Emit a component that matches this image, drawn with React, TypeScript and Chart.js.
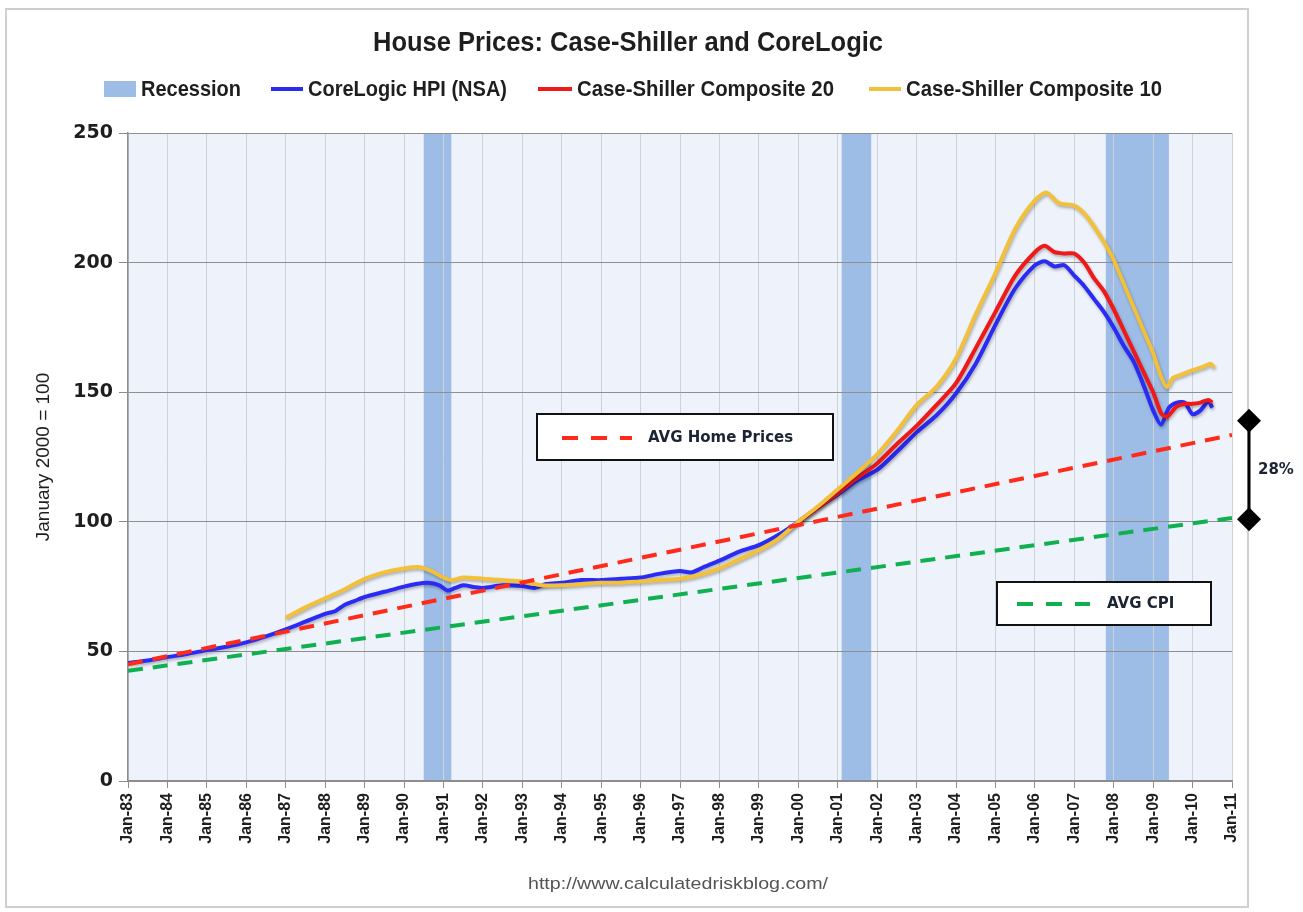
import React, { useEffect, useRef } from 'react';
import { Chart, registerables } from 'chart.js';

Chart.register(...registerables);

const chartTitle = 'House Prices: Case-Shiller and CoreLogic';
const yAxisTitle = 'January 2000 = 100';
const sourceText = 'http://www.calculatedriskblog.com/';

const xTickYears = [1983, 1984, 1985, 1986, 1987, 1988, 1989, 1990, 1991, 1992, 1993, 1994, 1995, 1996, 1997, 1998, 1999, 2000, 2001, 2002, 2003, 2004, 2005, 2006, 2007, 2008, 2009, 2010, 2011];
const xTickLabels = ['Jan-83', 'Jan-84', 'Jan-85', 'Jan-86', 'Jan-87', 'Jan-88', 'Jan-89', 'Jan-90', 'Jan-91', 'Jan-92', 'Jan-93', 'Jan-94', 'Jan-95', 'Jan-96', 'Jan-97', 'Jan-98', 'Jan-99', 'Jan-00', 'Jan-01', 'Jan-02', 'Jan-03', 'Jan-04', 'Jan-05', 'Jan-06', 'Jan-07', 'Jan-08', 'Jan-09', 'Jan-10', 'Jan-11'];
const yTickValues = [0, 50, 100, 150, 200, 250];

const legendLabels = ['Recession', 'CoreLogic HPI (NSA)', 'Case-Shiller Composite 20', 'Case-Shiller Composite 10'];

const coreLogicDates = [1983.0, 1983.5, 1984.0, 1984.5, 1985.0, 1985.5, 1986.0, 1986.5, 1987.0, 1987.5, 1988.0, 1988.25, 1988.5, 1988.75, 1989.0, 1989.5, 1990.0, 1990.3, 1990.6, 1990.9, 1991.1, 1991.3, 1991.5, 1991.8, 1992.0, 1992.5, 1993.0, 1993.3, 1993.6, 1994.0, 1994.5, 1995.0, 1995.5, 1996.0, 1996.5, 1997.0, 1997.3, 1997.6, 1998.0, 1998.5, 1999.0, 1999.5, 2000.0, 2000.5, 2001.0, 2001.5, 2002.0, 2002.5, 2003.0, 2003.5, 2004.0, 2004.5, 2005.0, 2005.5, 2006.0, 2006.25, 2006.5, 2006.75, 2007.0, 2007.25, 2007.5, 2007.75, 2008.0, 2008.25, 2008.5, 2008.75, 2009.0, 2009.2, 2009.4, 2009.6, 2009.8, 2010.0, 2010.2, 2010.4, 2010.5];
const coreLogicValues = [45.5, 46.5, 47.8, 49, 50.5, 51.8, 53.5, 55.8, 58.5, 61.5, 64.5, 65.5, 68, 69.5, 71, 73, 75, 76, 76.5, 75.5, 73.5, 74.5, 75.5, 74.8, 74.5, 75.5, 75.2, 74.5, 76, 76.5, 77.5, 77.5, 78, 78.5, 80, 81, 80.5, 82.5, 85, 88.5, 91, 95, 100, 105.5, 110.5, 116, 120, 127, 134.5, 141, 149.5, 161, 176, 190, 199, 200.5, 198.5, 199, 195, 191, 186, 181, 175, 168, 162, 153, 143, 137.5, 144, 146, 146, 141.5, 143, 146.5, 144];

const cs20Dates = [2000.0, 2000.5, 2001.0, 2001.5, 2002.0, 2002.5, 2003.0, 2003.5, 2004.0, 2004.5, 2005.0, 2005.5, 2006.0, 2006.25, 2006.5, 2006.75, 2007.0, 2007.25, 2007.5, 2007.75, 2008.0, 2008.25, 2008.5, 2008.75, 2009.0, 2009.2, 2009.35, 2009.6, 2009.8, 2010.0, 2010.2, 2010.4, 2010.5];
const cs20Values = [100, 105.5, 111, 117, 122.5, 130, 137, 145, 153.5, 167, 181, 195, 204, 206.5, 204, 203.5, 203.5, 200, 194, 189, 182, 174, 166, 158, 150, 142, 140.5, 144.5, 145.5, 145.5, 146, 147, 146];

const cs10Dates = [1987.0, 1987.5, 1988.0, 1988.5, 1989.0, 1989.5, 1990.0, 1990.4, 1990.7, 1991.0, 1991.2, 1991.5, 1992.0, 1992.5, 1993.0, 1993.5, 1994.0, 1994.5, 1995.0, 1995.5, 1996.0, 1996.5, 1997.0, 1997.5, 1998.0, 1998.5, 1999.0, 1999.5, 2000.0, 2000.5, 2001.0, 2001.5, 2002.0, 2002.5, 2003.0, 2003.5, 2004.0, 2004.5, 2005.0, 2005.5, 2006.0, 2006.3, 2006.6, 2007.0, 2007.25, 2007.5, 2007.75, 2008.0, 2008.25, 2008.5, 2008.75, 2009.0, 2009.2, 2009.35, 2009.5, 2009.75, 2010.0, 2010.3, 2010.45, 2010.55];
const cs10Values = [63, 67, 70.5, 74, 78, 80.5, 82, 82.5, 81, 78.5, 77.5, 78.5, 78, 77.5, 77, 75.5, 75.5, 76, 76.5, 76.5, 77, 77.5, 78, 79.5, 82, 85.5, 89, 93.5, 100, 106, 112.5, 119, 126, 135, 145, 152, 163, 180, 196, 213, 224, 227, 223, 222, 219, 214, 208, 201, 192, 183, 174, 165, 156, 152, 155.5, 157, 158.5, 160, 161, 159.5];

const avgHomeDates = [1983, 2011];
const avgHomeValues = [45, 133.5];
const avgCpiDates = [1983, 2011];
const avgCpiValues = [42.5, 101.5];

const recessionStarts = [1990.5, 2001.1, 2007.8];
const recessionEnds = [1991.2, 2001.85, 2009.4];

const gapMarkerValues = [139, 101];
const gapLabel = '28%';
const avgHomeLabel = 'AVG Home Prices';
const avgCpiLabel = 'AVG CPI';

const COLORS = {
  recession: '#9DBDE6',
  coreLogic: '#2B2BF5',
  cs20: '#F01818',
  cs10: '#F3C03A',
  avgHome: '#FF2A1A',
  avgCpi: '#10B050',
  plotBg: '#EEF3FB',
  text: '#1E1E1E',
};

const pts = (xs: number[], ys: number[]) => xs.map((x, i) => ({ x, y: ys[i] }));

function fitText(ctx: CanvasRenderingContext2D, text: string, x: number, y: number, font: string, width: number, align: CanvasTextAlign, color: string) {
  ctx.save();
  ctx.font = font;
  const w = ctx.measureText(text).width;
  const s = width / w;
  ctx.translate(x, y);
  ctx.scale(s, 1);
  ctx.textAlign = align;
  ctx.textBaseline = 'alphabetic';
  ctx.fillStyle = color;
  ctx.fillText(text, 0, 0);
  ctx.restore();
}

const backgroundPlugin = {
  id: 'bgPlugin',
  beforeDraw(chart: any) {
    const { ctx, chartArea: a, scales } = chart;
    const xs = scales.x;
    ctx.save();
    ctx.fillStyle = '#ffffff';
    ctx.fillRect(0, 0, chart.width, chart.height);
    ctx.strokeStyle = '#CFCFCF';
    ctx.lineWidth = 2;
    ctx.strokeRect(6, 9, 1242, 898);
    ctx.fillStyle = COLORS.plotBg;
    ctx.fillRect(a.left, a.top, a.right - a.left, a.bottom - a.top);
    ctx.fillStyle = COLORS.recession;
    for (let i = 0; i < recessionStarts.length; i++) {
      const x0 = xs.getPixelForValue(recessionStarts[i]);
      const x1 = xs.getPixelForValue(recessionEnds[i]);
      ctx.fillRect(x0, a.top, x1 - x0, a.bottom - a.top);
    }
    ctx.restore();
  },
};

const shadowPlugin = {
  id: 'shadowPlugin',
  beforeDatasetDraw(chart: any, args: any) {
    const ds = chart.data.datasets[args.index];
    if (ds.shadow) {
      const ctx = chart.ctx;
      ctx.save();
      ctx.shadowColor = 'rgba(0,0,0,0.28)';
      ctx.shadowBlur = 3;
      ctx.shadowOffsetX = 1;
      ctx.shadowOffsetY = 2;
    }
  },
  afterDatasetDraw(chart: any, args: any) {
    const ds = chart.data.datasets[args.index];
    if (ds.shadow) chart.ctx.restore();
  },
};

function dashSample(ctx: CanvasRenderingContext2D, x0: number, x1: number, y: number, color: string) {
  ctx.save();
  ctx.strokeStyle = color;
  ctx.lineWidth = 4;
  ctx.setLineDash([16, 13]);
  ctx.beginPath();
  ctx.moveTo(x0, y);
  ctx.lineTo(x1, y);
  ctx.stroke();
  ctx.restore();
}

const overlayPlugin = {
  id: 'overlayPlugin',
  afterDraw(chart: any) {
    const { ctx, chartArea: a, scales } = chart;
    const ys = scales.y;
    // title
    fitText(ctx, chartTitle, 628, 51, 'bold 28px "Liberation Sans", Arial, sans-serif', 510, 'center', COLORS.text);
    // legend
    const ly = 89;
    const lbase = 96;
    const lfont = 'bold 22px "Liberation Sans", Arial, sans-serif';
    ctx.save();
    ctx.fillStyle = COLORS.recession;
    ctx.fillRect(104, 81, 32, 16);
    ctx.lineWidth = 4;
    ctx.strokeStyle = COLORS.coreLogic;
    ctx.beginPath(); ctx.moveTo(271, ly); ctx.lineTo(303, ly); ctx.stroke();
    ctx.strokeStyle = COLORS.cs20;
    ctx.beginPath(); ctx.moveTo(538, ly); ctx.lineTo(572, ly); ctx.stroke();
    ctx.strokeStyle = COLORS.cs10;
    ctx.beginPath(); ctx.moveTo(869, ly); ctx.lineTo(901, ly); ctx.stroke();
    ctx.restore();
    fitText(ctx, legendLabels[0], 141, lbase, lfont, 100, 'left', COLORS.text);
    fitText(ctx, legendLabels[1], 308, lbase, lfont, 199, 'left', COLORS.text);
    fitText(ctx, legendLabels[2], 577, lbase, lfont, 257, 'left', COLORS.text);
    fitText(ctx, legendLabels[3], 906, lbase, lfont, 256, 'left', COLORS.text);

    // AVG boxes
    ctx.save();
    ctx.fillStyle = '#ffffff';
    ctx.strokeStyle = '#111111';
    ctx.lineWidth = 2;
    ctx.fillRect(537, 414, 296, 46);
    ctx.strokeRect(537, 414, 296, 46);
    ctx.fillRect(997, 582, 214, 43);
    ctx.strokeRect(997, 582, 214, 43);
    ctx.restore();
    dashSample(ctx, 562, 632, 438, COLORS.avgHome);
    dashSample(ctx, 1017, 1090, 604, COLORS.avgCpi);
    ctx.save();
    ctx.font = 'bold 15px "DejaVu Sans", Verdana, sans-serif';
    ctx.fillStyle = '#1C2333';
    ctx.textBaseline = 'middle';
    ctx.textAlign = 'left';
    ctx.fillText(avgHomeLabel, 648, 438);
    ctx.fillText(avgCpiLabel, 1107, 604);
    ctx.restore();

    // gap marker
    const gx = a.right + 17;
    const y0 = ys.getPixelForValue(gapMarkerValues[0]);
    const y1 = ys.getPixelForValue(gapMarkerValues[1]);
    ctx.save();
    ctx.strokeStyle = '#000';
    ctx.lineWidth = 3;
    ctx.beginPath(); ctx.moveTo(gx, y0); ctx.lineTo(gx, y1); ctx.stroke();
    ctx.fillStyle = '#000';
    for (const yy of [y0, y1]) {
      ctx.beginPath();
      ctx.moveTo(gx, yy - 12);
      ctx.lineTo(gx + 12, yy);
      ctx.lineTo(gx, yy + 12);
      ctx.lineTo(gx - 12, yy);
      ctx.closePath();
      ctx.fill();
    }
    ctx.font = 'bold 15px "DejaVu Sans", Verdana, sans-serif';
    ctx.fillStyle = '#1C2333';
    ctx.textBaseline = 'middle';
    ctx.textAlign = 'left';
    ctx.fillText(gapLabel, gx + 9, (y0 + y1) / 2);
    ctx.restore();

    // source
    fitText(ctx, sourceText, 678, 889, '17px "Liberation Sans", Arial, sans-serif', 300, 'center', '#555555');
  },
};

export default function App() {
  const canvasRef = useRef<HTMLCanvasElement>(null);

  useEffect(() => {
    const canvas = canvasRef.current;
    if (!canvas) return;
    const chart = new Chart(canvas, {
      type: 'line',
      data: {
        datasets: [
          {
            label: 'AVG Home Prices',
            data: pts(avgHomeDates, avgHomeValues),
            borderColor: COLORS.avgHome,
            borderWidth: 4,
            borderDash: [15, 10],
            pointRadius: 0,
            fill: false,
            order: 0,
          },
          {
            label: 'AVG CPI',
            data: pts(avgCpiDates, avgCpiValues),
            borderColor: COLORS.avgCpi,
            borderWidth: 4,
            borderDash: [15, 10],
            pointRadius: 0,
            fill: false,
            order: 0,
          },
          {
            label: legendLabels[3],
            data: pts(cs10Dates, cs10Values),
            borderColor: COLORS.cs10,
            borderWidth: 4,
            pointRadius: 0,
            tension: 0.25,
            fill: false,
            order: 1,
            shadow: true,
          } as any,
          {
            label: legendLabels[2],
            data: pts(cs20Dates, cs20Values),
            borderColor: COLORS.cs20,
            borderWidth: 4,
            pointRadius: 0,
            tension: 0.25,
            fill: false,
            order: 2,
            shadow: true,
          } as any,
          {
            label: legendLabels[1],
            data: pts(coreLogicDates, coreLogicValues),
            borderColor: COLORS.coreLogic,
            borderWidth: 4,
            pointRadius: 0,
            tension: 0.25,
            fill: false,
            order: 3,
            shadow: true,
          } as any,
        ],
      },
      options: {
        animation: false,
        responsive: false,
        devicePixelRatio: 1,
        events: [],
        layout: { padding: { top: 133, right: 71, bottom: 0, left: 0 } },
        plugins: {
          legend: { display: false },
          title: { display: false },
          tooltip: { enabled: false },
        },
        scales: {
          x: {
            type: 'linear',
            min: 1983,
            max: 2011,
            afterFit: (s: any) => { s.height = 131; },
            afterBuildTicks: (s: any) => { s.ticks = xTickYears.map((v) => ({ value: v })); },
            ticks: {
              autoSkip: false,
              minRotation: 90,
              maxRotation: 90,
              padding: 5,
              color: COLORS.text,
              font: { family: '"Liberation Sans", Arial, sans-serif', size: 16, weight: 'bold' },
              callback: (v: any) => {
                const i = xTickYears.indexOf(Number(v));
                return i >= 0 ? xTickLabels[i] : '';
              },
            },
            grid: { color: '#CDD2D9', lineWidth: 1, tickLength: 7, tickColor: '#8C8C8C' },
            border: { color: '#8C8C8C', width: 1.5 },
          },
          y: {
            min: 0,
            max: 250,
            afterFit: (s: any) => { s.width = 128; },
            afterBuildTicks: (s: any) => { s.ticks = yTickValues.map((v) => ({ value: v })); },
            ticks: {
              padding: 6,
              color: COLORS.text,
              font: { family: '"DejaVu Sans", Verdana, sans-serif', size: 19, weight: 'bold' },
            },
            grid: { color: '#8F8F8F', lineWidth: 1, tickLength: 9, tickColor: '#8C8C8C' },
            border: { color: '#8C8C8C', width: 1.5 },
            title: {
              display: true,
              text: yAxisTitle,
              color: COLORS.text,
              padding: { top: 32, bottom: 0 },
              font: { family: '"Liberation Sans", Arial, sans-serif', size: 19, weight: 'normal' },
            },
          },
        },
      },
      plugins: [backgroundPlugin, shadowPlugin, overlayPlugin],
    } as any);
    return () => chart.destroy();
  }, []);

  return (
    <div style={{ position: 'absolute', left: 0, top: 0, width: 1303, height: 912, background: '#ffffff' }}>
      <canvas ref={canvasRef} width={1303} height={912} style={{ display: 'block', width: 1303, height: 912 }} />
    </div>
  );
}
